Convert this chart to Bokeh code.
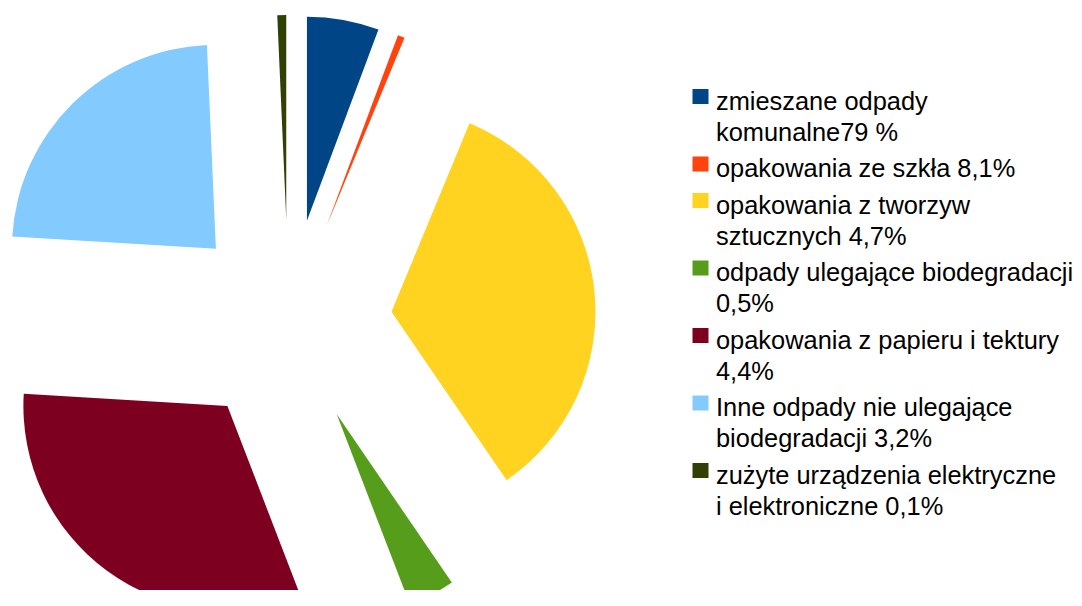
import math
from bokeh.plotting import figure
from bokeh.models import Range1d, ColumnDataSource
from bokeh.core.properties import value
from bokeh.embed import file_html
from bokeh.resources import INLINE

# ---- data ----
categories = [
    "zmieszane odpady\nkomunalne79 %",
    "opakowania ze szkła 8,1%",
    "opakowania z tworzyw\nsztucznych 4,7%",
    "odpady ulegające biodegradacji\n0,5%",
    "opakowania z papieru i tektury\n4,4%",
    "Inne odpady nie ulegające\nbiodegradacji 3,2%",
    "zużyte urządzenia elektryczne\ni elektroniczne 0,1%",
]
shares = [5.7, 0.55, 34.2, 3.7, 31.8, 23.35, 0.7]
colors = ["#004586", "#ff420e", "#ffd320", "#579d1c", "#7e0021", "#83caff", "#314004"]

# ---- layout (picture pixel coordinates; data y = -pixel y) ----
W, H = 1074, 590
CX, CY = 288.0, 322.0      # pie centre
R = 204.0                  # radius
EXPLODE = 103.5            # offset of each slice

total = sum(shares)
xs, ys, starts, ends = [], [], [], []
acc = 0.0
for v in shares:
    a1 = acc / total * 360.0
    acc += v
    a2 = acc / total * 360.0
    mid = math.radians((a1 + a2) / 2)
    xs.append(CX + EXPLODE * math.sin(mid))
    ys.append(-(CY - EXPLODE * math.cos(mid)))
    starts.append(math.radians(90 - a2))
    ends.append(math.radians(90 - a1))

p = figure(width=W, height=H, output_backend="svg", toolbar_location=None,
           x_range=Range1d(0, W), y_range=Range1d(-H, 0),
           min_border=0, x_axis_type=None, y_axis_type=None)
p.grid.visible = False
p.outline_line_color = None
p.background_fill_color = "white"
p.border_fill_color = "white"

src = ColumnDataSource(dict(x=xs, y=ys, s=starts, e=ends, c=colors))
p.wedge(x="x", y="y", radius=R, start_angle="s", end_angle="e",
        fill_color="c", line_color=None, source=src)

# ---- legend ----
LINE = 31.0
GAP = 5.5
sq_x, sq_w, sq_h = 700, 16, 15
txt_x = 715.5
cy = 96.0
sq_xs, sq_ys, t_x, t_y, t_txt = [], [], [], [], []
for lab in categories:
    lines = lab.split("\n")
    sq_xs.append(sq_x)
    sq_ys.append(-cy)
    for k, ln in enumerate(lines):
        t_x.append(txt_x)
        t_y.append(-(cy + 4.0 + k * LINE))
        t_txt.append(ln)
    cy += len(lines) * LINE + GAP

p.rect(x=sq_xs, y=sq_ys, width=sq_w, height=sq_h, fill_color=colors, line_color=None)
p.text(x=t_x, y=t_y, text=t_txt, text_font=value("Liberation Sans"),
       text_font_size="25.4px", text_color="black", text_baseline="alphabetic",
       text_align="left")

open("out.html", "w").write(file_html(p, INLINE))
